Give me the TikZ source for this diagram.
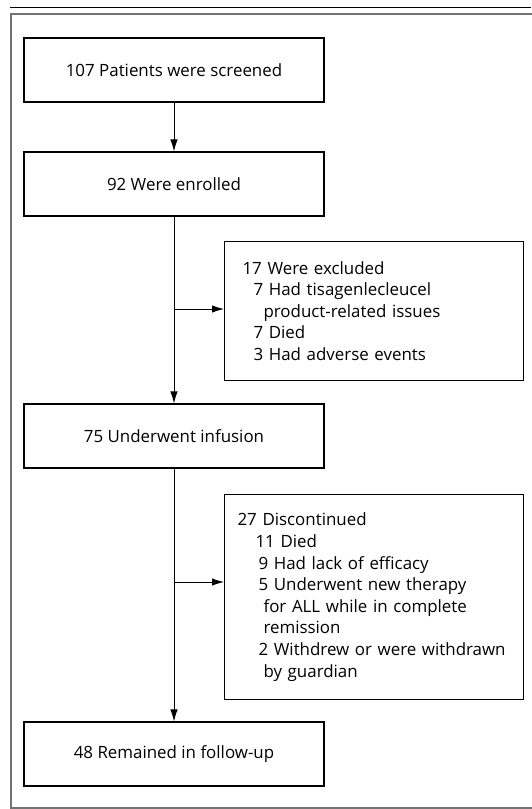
\documentclass[tikz,border=0pt]{standalone}
\usepackage{fontspec}
\setmainfont{Open Sans}
\usetikzlibrary{arrows.meta}

\tikzset{
	stage/.style={draw, line width=1.1pt, minimum width=300, minimum height=64, inner sep=0},
	sidebox/.style={draw, line width=1.1pt, anchor=north west, minimum height=#1, align=left},
	flow/.style={line width=1pt, -{Latex[length=12pt,width=7.5pt]}},
}

\begin{document}
\begin{tikzpicture}[x=1pt, y=-1pt, every node/.style={font=\fontsize{16.9}{21.6}\selectfont}]
			%%%%% START %%%%%
			\useasboundingbox (0, 0) rectangle (531, 809);
			
			\draw[line width=1.5pt] (10, 7.5) -- (531, 7.5);
			\draw[line width=2pt, color=black!55] (11, 14) rectangle (545, 808);
			
			\node[stage] (screened) at (174, 70) {107 Patients were screened};
			\node[stage] (enrolled) at (174, 184) {92 Were enrolled};
			\node[stage] (infused) at (174, 436) {75 Underwent infusion};
			\node[stage] (followup) at (174, 754) {48 Remained in follow-up};
			
			\node[sidebox=139, inner xsep=18pt, text width=263pt] (excluded) at (224, 241) {17 Were excluded\\
				\hspace*{11pt}7 Had tisagenlecleucel\\
				\hspace*{21pt}product-related issues\\
				\hspace*{11pt}7 Died\\
				\hspace*{11pt}3 Had adverse events};
			
			\node[sidebox=205, inner xsep=13pt, text width=273pt] (discont) at (224, 494) {27 Discontinued\\
				\hspace*{18pt}11 Died\\
				\hspace*{21pt}9 Had lack of efficacy\\
				\hspace*{21pt}5 Underwent new therapy\\
				\hspace*{26pt}for ALL while in complete\\
				\hspace*{26pt}remission\\
				\hspace*{21pt}\mbox{2 Withdrew or were withdrawn}\\
				\hspace*{26pt}by guardian};
			
			\draw[flow] (screened) -- (enrolled);
			\draw[flow] (enrolled) -- (infused);
			\coordinate (toex) at (174, 309);
			\draw[flow] (toex) -- (toex -| excluded.west);
			
			\draw[flow] (infused) -- (followup);
			\coordinate (todis) at (174, 582);
			\draw[flow] (todis) -- (todis -| discont.west);
			
			%%%%% END %%%%%
		\end{tikzpicture}
\end{document}
